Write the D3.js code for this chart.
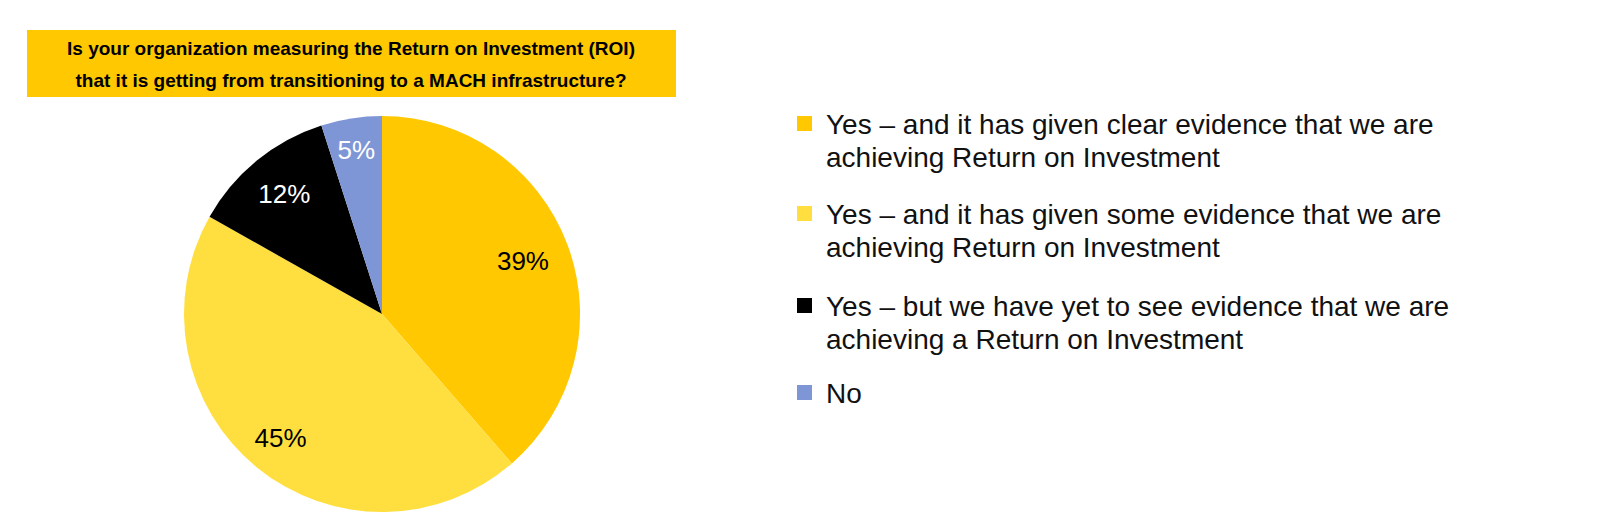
<!DOCTYPE html>
<html><head><meta charset="utf-8">
<script src="https://cdn.jsdelivr.net/npm/d3@7"></script>
<style>body{margin:0;background:#fff;}text{font-family:"Liberation Sans",Arial,sans-serif;}</style>
</head><body><svg id="c" width="1600" height="528"></svg>
<script>
const categories = [
 ["Yes – and it has given clear evidence that we are","achieving Return on Investment"],
 ["Yes – and it has given some evidence that we are","achieving Return on Investment"],
 ["Yes – but we have yet to see evidence that we are","achieving a Return on Investment"],
 ["No"]
];
const values = [39, 45, 12, 5];
const colors = ["#FFC800", "#FFDF3F", "#000000", "#7F96D6"];
const labelColors = ["#000", "#000", "#fff", "#fff"];
const titleLines = ["Is your organization measuring the Return on Investment (ROI)", "that it is getting from transitioning to a MACH infrastructure?"];

const svg = d3.select("#c");
svg.append("rect").attr("x",27).attr("y",30).attr("width",649).attr("height",67).attr("fill","#FFC800");
svg.selectAll(".t").data(titleLines).join("text").attr("x",351).attr("y",(d,i)=>55+i*32)
 .attr("text-anchor","middle").attr("font-size",19).attr("font-weight","bold").text(d=>d);

const cx=382, cy=314, r=198;
const pie=d3.pie().sort(null).value(d=>d);
const arcs=pie(values);
const arc=d3.arc().innerRadius(0).outerRadius(r);
const g=svg.append("g").attr("transform",`translate(${cx},${cy})`);
g.selectAll("path").data(arcs).join("path").attr("d",arc).attr("fill",(d,i)=>colors[i]);
const radii=[0.76,0.81,0.78,0.84];
g.selectAll(".lbl").data(arcs).join("text")
 .attr("transform",(d,i)=>{const a=d3.arc().innerRadius(r*radii[i]).outerRadius(r*radii[i]);return `translate(${a.centroid(d)})`;})
 .attr("text-anchor","middle").attr("dy","0.35em").attr("font-size",26)
 .attr("fill",(d,i)=>labelColors[i]).text(d=>d.data+"%");

const ly=[124,214,306,393];
const lg=svg.append("g");
categories.forEach((lines,i)=>{
  lg.append("rect").attr("x",797).attr("y",ly[i]-8).attr("width",15).attr("height",15).attr("fill",colors[i]);
  lines.forEach((t,j)=>lg.append("text").attr("x",826).attr("y",ly[i]+j*33).attr("dy","0.35em").attr("font-size",28).attr("fill","#111").text(t));
});
</script></body></html>
